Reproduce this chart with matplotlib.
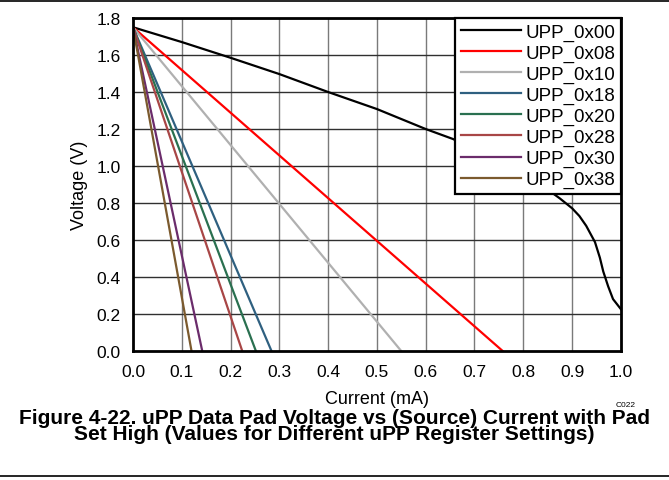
import matplotlib.pyplot as plt
import matplotlib.lines as mlines

plt.rcParams['font.family'] = ['Liberation Sans', 'DejaVu Sans']

# UPP_0x00 curve
cur_00 = [0.0, 0.1, 0.2, 0.3, 0.4, 0.5, 0.6, 0.656, 0.7, 0.75, 0.8, 0.85,
          0.875, 0.9, 0.915, 0.929, 0.947, 0.957, 0.964, 0.974, 0.984, 1.0]
volt_00 = [1.75, 1.67, 1.585, 1.497, 1.40, 1.308, 1.20, 1.146, 1.09, 1.03,
           0.96, 0.873, 0.825, 0.772, 0.73, 0.677, 0.589, 0.505, 0.43, 0.35,
           0.281, 0.227]

# the other settings are straight lines from the open-circuit voltage down to 0 V
labels = ["UPP_0x08", "UPP_0x10", "UPP_0x18", "UPP_0x20",
          "UPP_0x28", "UPP_0x30", "UPP_0x38"]
v_start = 1.75
i_zero = [0.758, 0.550, 0.284, 0.252, 0.224, 0.142, 0.120]
colors = ["#FF0000", "#B0B0B0", "#2F6080", "#2A7050",
          "#A84646", "#6B2C6B", "#7B5A2E"]

fig = plt.figure(figsize=(6.69, 4.81), dpi=100)
ax = fig.add_axes([0.1988, 0.268, 0.7292, 0.6925])

ax.plot(cur_00, volt_00, color="black", lw=1.6, label="UPP_0x00")
for lab, i0, c in zip(labels, i_zero, colors):
    ax.plot([0.0, i0], [v_start, 0.0], color=c, lw=1.6, label=lab)

ax.set_xlim(0, 1.0)
ax.set_ylim(0, 1.8)
ax.set_xticks([i / 10 for i in range(11)])
ax.set_yticks([i / 5 for i in range(10)])
ax.set_xticklabels([f"{i / 10:.1f}" for i in range(11)], fontsize=12.5)
ax.set_yticklabels([f"{i / 5:.1f}" for i in range(10)], fontsize=12.5)
ax.tick_params(length=0)
ax.tick_params(axis="x", pad=9.5)
ax.tick_params(axis="y", pad=9)
for t in ax.get_xticks()[1:-1]:
    ax.axvline(t, color="#7a7a7a", lw=1.0, zorder=0.5)
for t in ax.get_yticks()[1:]:
    ax.axhline(t, color="#303030", lw=1.0, zorder=0.5)
for s in ax.spines.values():
    s.set_linewidth(2.0)

ax.set_xlabel("Current (mA)", fontsize=13, labelpad=8)
ax.set_ylabel("Voltage (V)", fontsize=13, labelpad=6)

leg = ax.legend(loc="upper right", borderaxespad=0, fontsize=13.5,
                frameon=True, fancybox=False, handlelength=3.2,
                handletextpad=0.25, labelspacing=0.2, borderpad=0.3)
leg.get_frame().set_edgecolor("black")
leg.get_frame().set_linewidth(1.6)
leg.get_frame().set_alpha(1)

fig.text(0.935, 0.158, "C022", fontsize=6, ha="center", va="center")
fig.text(0.5, 0.113, "Figure 4-22. uPP Data Pad Voltage vs (Source) Current with Pad\n"
         "Set High (Values for Different uPP Register Settings)",
         fontsize=15, fontweight="bold", ha="center", va="center",
         linespacing=0.78)

# rules across the top and bottom of the page
fig.add_artist(mlines.Line2D([0, 1], [0.996, 0.996], color="black", lw=1.2))
fig.add_artist(mlines.Line2D([0, 1], [0.008, 0.008], color="black", lw=1.2))

fig.savefig("out.png", dpi=100)
